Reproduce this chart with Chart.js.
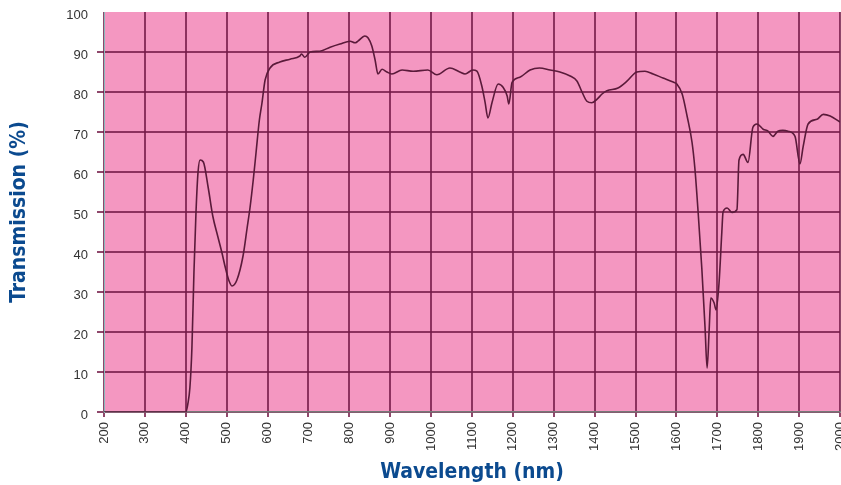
<!DOCTYPE html>
<html>
<head>
<meta charset="utf-8">
<script src="https://cdn.jsdelivr.net/npm/chart.js@4/dist/chart.umd.min.js"></script>
<style>
  body { margin: 0; background: #fff; }
  #wrap { width: 841px; height: 485px; }
</style>
</head>
<body>
<div id="wrap"><canvas id="transChart"></canvas></div>
<script>
// wavelength (nm) and transmission (%)
var wavelength = [200, 300, 400, 405, 410, 415, 420, 425, 430, 435, 443, 455, 466, 478, 488, 497, 505, 513, 525, 540,
  550, 557, 565, 572, 580, 586, 594, 606, 630, 655, 679, 683, 691, 704, 728, 753, 777, 802, 814, 821,
  838, 846, 855, 863, 870, 880, 892, 904, 929, 956, 992, 1014, 1046, 1070, 1083, 1102, 1112, 1124, 1132, 1139,
  1149, 1164, 1176, 1186, 1190, 1198, 1217, 1242, 1265, 1291, 1315, 1340, 1357, 1369, 1381, 1393, 1406, 1418, 1430, 1457,
  1479, 1503, 1523, 1543, 1567, 1592, 1601, 1614, 1626, 1638, 1645, 1653, 1662, 1670, 1675, 1680, 1684, 1692, 1697, 1704,
  1711, 1714, 1724, 1736, 1748, 1753, 1763, 1775, 1787, 1797, 1812, 1824, 1836, 1848, 1860, 1873, 1890, 1902, 1910, 1922,
  1944, 1959, 1976, 2000];
var transmission = [0, 0, 0, 2, 6, 16, 35, 50, 60, 63, 62.5, 56, 49, 44, 40, 36, 33, 31.5, 33, 39,
  46, 51, 58, 65, 73, 77, 83, 86, 87.5, 88.2, 89, 89.5, 88.7, 90, 90.2, 91.2, 92, 92.7, 92.3, 92.7,
  94, 93.5, 91.5, 88, 84.5, 85.7, 85, 84.5, 85.5, 85.2, 85.5, 84.3, 86, 85, 84.5, 85.5, 85.2, 81.5, 77.4, 73.5,
  77.4, 82, 81.2, 79, 77, 82.4, 83.7, 85.5, 86, 85.5, 85, 84, 82.7, 80, 77.7, 77.3, 78.2, 79.5, 80.3, 81,
  82.7, 85, 85.2, 84.5, 83.5, 82.5, 82, 79.5, 74, 67.5, 61, 50, 36, 21, 11, 20.5, 28.5, 27.3, 25.5, 32,
  45, 50, 51, 49.9, 50.6, 63, 64.4, 62.4, 71.2, 72, 70.7, 70.2, 68.9, 70.2, 70.4, 70.2, 68.9, 62, 66.4, 72,
  73.2, 74.4, 74, 72.5];

var points = wavelength.map(function (w, i) { return { x: w, y: transmission[i] }; });

var gridColor = 'rgba(115, 25, 70, 0.8)';
var titleBlue = '#0b4a8f';

// pink plot area
var plotBg = {
  id: 'plotBg',
  beforeDraw: function (chart) {
    var a = chart.chartArea, c = chart.ctx;
    c.save();
    c.fillStyle = '#f497c1';
    c.fillRect(a.left, a.top, a.right - a.left, a.bottom - a.top);
    c.restore();
  }
};

var ctx = document.getElementById('transChart').getContext('2d');
var myChart = new Chart(ctx, {
  type: 'line',
  data: {
    datasets: [{
      data: points,
      borderColor: '#5a1a3a',
      borderWidth: 1.6,
      pointRadius: 0,
      fill: false,
      cubicInterpolationMode: 'monotone'
    }]
  },
  options: {
    responsive: true,
    maintainAspectRatio: false,
    animation: false,
    layout: { padding: { top: 12, right: 1, left: 0, bottom: 0 } },
    plugins: {
      legend: { display: false },
      tooltip: { enabled: false }
    },
    scales: {
      x: {
        type: 'linear',
        min: 200,
        max: 2000,
        border: { color: '#777', width: 1.5 },
        grid: { color: gridColor, lineWidth: 2, tickLength: 5 },
        ticks: {
          stepSize: 100,
          minRotation: 90,
          maxRotation: 90,
          autoSkip: false,
          padding: 5,
          color: '#333',
          font: { family: 'Liberation Sans, Arial, sans-serif', size: 13 },
          callback: function (v) { return String(v); }
        },
        title: {
          display: true,
          text: 'Wavelength (nm)',
          color: titleBlue,
          padding: { top: 0, bottom: 0 },
          font: { family: 'Liberation Sans Narrow, DejaVu Sans Condensed, sans-serif', size: 21, weight: 'bold' }
        },
        afterFit: function (s) { s.height = 73; s.paddingLeft = 0; s.paddingRight = 0; }
      },
      y: {
        min: 0,
        max: 100,
        border: { color: '#8bb', width: 1 },
        grid: {
          color: function (c) { return c.tick && c.tick.value === 100 ? 'rgba(0,0,0,0)' : gridColor; },
          lineWidth: 2,
          tickLength: 7
        },
        ticks: {
          stepSize: 10,
          padding: 9,
          labelOffset: 3,
          color: '#333',
          font: { family: 'Liberation Sans, Arial, sans-serif', size: 13 }
        },
        title: {
          display: true,
          text: 'Transmission (%)',
          color: titleBlue,
          padding: { top: 7, bottom: 13 },
          font: { family: 'Liberation Sans Narrow, DejaVu Sans Condensed, sans-serif', size: 21, weight: 'bold' }
        },
        afterFit: function (s) { s.width = 104; s.paddingTop = 0; s.paddingBottom = 0; }
      }
    }
  },
  plugins: [plotBg]
});
</script>
</body>
</html>
